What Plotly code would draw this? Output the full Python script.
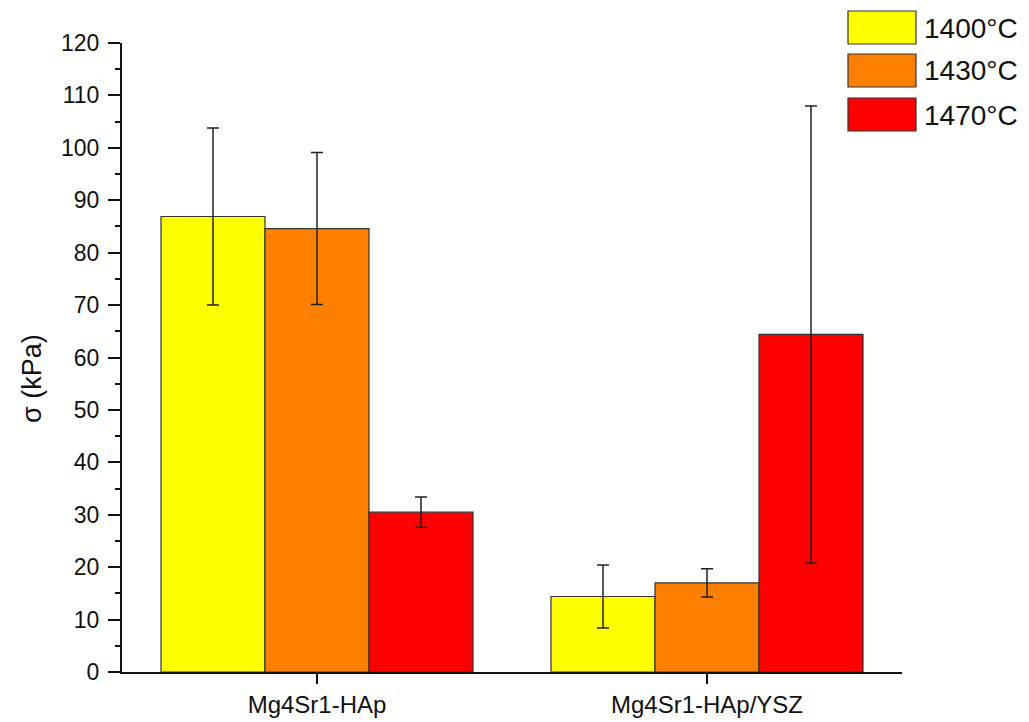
import plotly.graph_objects as go

categories = ["Mg4Sr1-HAp", "Mg4Sr1-HAp/YSZ"]
series_names = ["1400°C", "1430°C", "1470°C"]
series_colors = ["#FFFF00", "#FF8000", "#FF0000"]
values_1400 = [86.9, 14.4]
values_1430 = [84.6, 17.0]
values_1470 = [30.5, 64.4]
err_1400 = [16.9, 6.0]
err_1430 = [14.5, 2.7]
err_1470 = [2.9, 43.6]
y_ticks = [0, 10, 20, 30, 40, 50, 60, 70, 80, 90, 100, 110, 120]

FONT = "Liberation Sans, Arial, sans-serif"

fig = go.Figure()
for name, color, vals, errs in zip(series_names, series_colors,
                                   [values_1400, values_1430, values_1470],
                                   [err_1400, err_1430, err_1470]):
    fig.add_trace(go.Bar(
        x=categories, y=vals, name=name,
        marker=dict(color=color, line=dict(color="#333333", width=1.2)),
        error_y=dict(type="data", array=errs, visible=True,
                     color="#222222", thickness=1.5, width=6),
        showlegend=False,
    ))

# plot-area geometry in window pixels (page has an 8px body margin)
L, TOP, BOTTOM = 122, 43, 672
W, H = 780, BOTTOM - TOP
def px(x):
    return (x - L) / W
def py(y):
    return (BOTTOM - y) / H

swatch_tops = [11, 54, 98]
for name, color, top in zip(series_names, series_colors, swatch_tops):
    fig.add_shape(type="rect", xref="paper", yref="paper",
                  x0=px(848), x1=px(916), y0=py(top + 33), y1=py(top),
                  fillcolor=color, line=dict(color="#333333", width=1.2))
    fig.add_annotation(xref="paper", yref="paper", x=px(922), y=py(top + 17),
                       text=name, showarrow=False, xanchor="left", yanchor="middle",
                       font=dict(family=FONT, size=28, color="#111111"))

fig.add_annotation(xref="paper", yref="paper", x=px(32), y=py(379),
                   text="σ (kPa)", textangle=-90, showarrow=False,
                   xanchor="center", yanchor="middle",
                   font=dict(family=FONT, size=27, color="#111111"))

fig.update_layout(
    width=1021, height=714,
    margin=dict(l=114, r=127, t=35, b=50),
    paper_bgcolor="white", plot_bgcolor="white",
    barmode="group", bargap=0.2, bargroupgap=0,
    font=dict(family=FONT, color="#111111"),
)
fig.update_xaxes(
    range=[-0.5, 1.5], showline=True, linecolor="#111111", linewidth=2,
    ticks="outside", ticklen=10, tickwidth=2, tickcolor="#111111",
    tickfont=dict(family=FONT, size=24, color="#111111"),
    showgrid=False, zeroline=False, automargin=False,
)
fig.update_yaxes(
    range=[0, 120], tickvals=y_ticks, showline=True, linecolor="#111111", linewidth=2,
    ticks="outside", ticklen=12, tickwidth=2, tickcolor="#111111",
    minor=dict(ticks="outside", ticklen=5, tickwidth=2, tickcolor="#111111", dtick=5),
    tickfont=dict(family=FONT, size=23, color="#111111"),
    ticklabelstandoff=4,
    showgrid=False, zeroline=False, automargin=False,
)

fig.write_html("out.html")
